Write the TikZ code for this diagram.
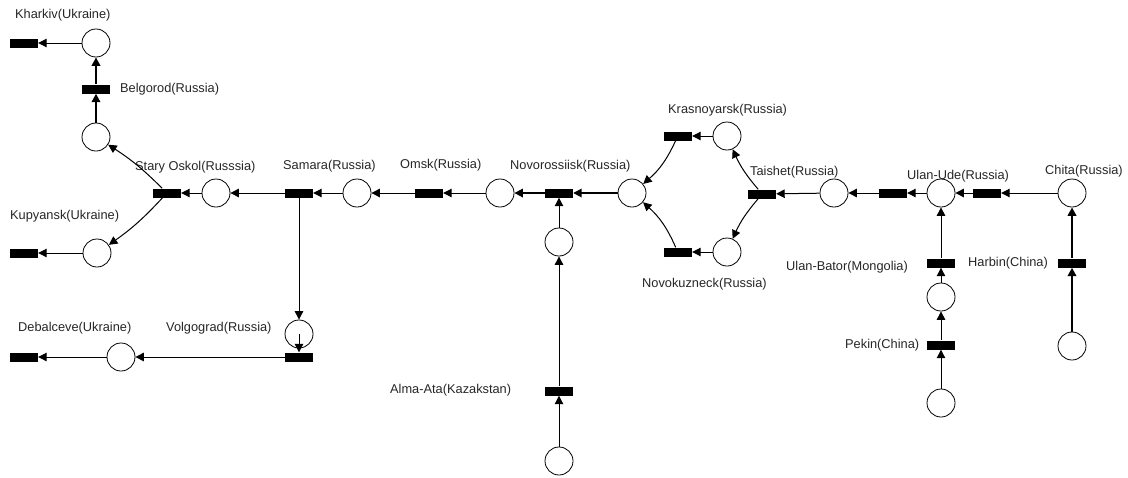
\documentclass[tikz,border=0pt]{standalone}
\usepackage{fontspec}
\setmainfont{Liberation Sans}
\usetikzlibrary{positioning,arrows.meta}

\begin{document}
\begin{tikzpicture}[
      x=1pt, y=-1pt,
      font=\fontsize{12.8}{14}\selectfont,
      >={Triangle[length=8.5pt,width=8.5pt]},
      place/.style={draw, circle, minimum size=28pt, inner sep=0pt, line width=0.8pt},
      trans/.style={fill=black, minimum width=28pt, minimum height=9pt, inner sep=0pt},
      lbl/.style={anchor=west, inner sep=0pt, text=black!85},
      link/.style={->, line width=1pt},
      midlink/.style={->, line width=1.7pt},
      boldlink/.style={->, line width=2.8pt}
    ]
    \useasboundingbox (0,0) rectangle (1128,477);

    \node[place] (kharkivP)  at (96,43)   {};
    \node[trans] (kharkivT)  at (24,43)   {};
    \node[trans] (belgorodT) at (96,89)   {};
    \node[place] (belgorodP) at (96,137)  {};
    \node[trans] (oskolT)    at (167,193) {};
    \node[place] (oskolP)    at (216,193) {};
    \node[place] (kupyanskP) at (97,253)  {};
    \node[trans] (kupyanskT) at (24,253)  {};
    \node[trans] (samaraT)   at (299,193) {};
    \node[place] (samaraP)   at (357,193) {};
    \node[trans] (omskT)     at (429,193) {};
    \node[place] (omskP)     at (500,193) {};
    \node[trans] (novorT)    at (559,193) {};
    \node[place] (novorP)    at (632,193) {};
    \node[place] (almaP)     at (559,242) {};
    \node[trans] (almaT)     at (559,391) {};
    \node[place] (almaSrc)   at (559,461) {};
    \node[trans] (krasT)     at (678,136) {};
    \node[place] (krasP)     at (727,136) {};
    \node[trans] (novokT)    at (678,252) {};
    \node[place] (novokP)    at (727,252) {};
    \node[trans] (taishetT)  at (762,194) {};
    \node[place] (taishetP)  at (834,193) {};
    \node[trans] (udeT)      at (893,193) {};
    \node[place] (udeP)      at (941,193) {};
    \node[trans] (chitaT)    at (987,193) {};
    \node[place] (chitaP)    at (1072,193) {};
    \node[trans] (batorT)    at (941,263) {};
    \node[place] (batorP)    at (941,297) {};
    \node[trans] (pekinT)    at (941,345) {};
    \node[place] (pekinP)    at (941,403) {};
    \node[trans] (harbinT)   at (1072,263) {};
    \node[place] (harbinP)   at (1072,346) {};
    \node[place] (volgP)     at (299,334) {};
    \node[trans] (volgT)     at (299,357) {};
    \node[place] (debalP)    at (121,357) {};
    \node[trans] (debalT)    at (24,357)  {};

    \node[lbl] (kharkivL)  at (15,15)   {Kharkiv(Ukraine)};
    \node[lbl] (belgorodL) at (120,89)  {Belgorod(Russia)};
    \node[lbl] (oskolL)    at (135,167) {Stary Oskol(Russsia)};
    \node[lbl] (samaraL)   at (283,166) {Samara(Russia)};
    \node[lbl] (omskL)     at (400,165) {Omsk(Russia)};
    \node[lbl] (novorL)    at (510,166) {Novorossiisk(Russia)};
    \node[lbl] (krasL)     at (668,110) {Krasnoyarsk(Russia)};
    \node[lbl] (taishetL)  at (750,172) {Taishet(Russia)};
    \node[lbl] (novokL)    at (642,284) {Novokuzneck(Russia)};
    \node[lbl] (udeL)      at (907,176) {Ulan-Ude(Russia)};
    \node[lbl] (chitaL)    at (1045,171) {Chita(Russia)};
    \node[lbl] (batorL)    at (786,267) {Ulan-Bator(Mongolia)};
    \node[lbl] (harbinL)   at (968,263) {Harbin(China)};
    \node[lbl] (pekinL)    at (845,345) {Pekin(China)};
    \node[lbl] (almaL)     at (390,390) {Alma-Ata(Kazakstan)};
    \node[lbl] (kupyanskL) at (10,216)  {Kupyansk(Ukraine)};
    \node[lbl] (debalL)    at (18,328)  {Debalceve(Ukraine)};
    \node[lbl] (volgL)     at (166,328) {Volgograd(Russia)};

    \draw[link] (kharkivP) -- (kharkivT);
    \draw[boldlink] (belgorodT) -- (kharkivP);
    \draw[boldlink] (belgorodP) -- (belgorodT);
    \draw[link] (oskolT) to[bend right=6] (belgorodP);
    \draw[link] (oskolT) to[bend left=6] (kupyanskP);
    \draw[link] (kupyanskP) -- (kupyanskT);
    \draw[link] (oskolP) -- (oskolT);
    \draw[link] (samaraT) -- (oskolP);
    \draw[link] (samaraT) -- (volgP);
    \draw[link] (samaraP) -- (samaraT);
    \draw[link] (omskT) -- (samaraP);
    \draw[link] (omskP) -- (omskT);
    \draw[midlink] (novorT) -- (omskP);
    \draw[midlink] (novorP) -- (novorT);
    \draw[link] (almaP) -- (novorT);
    \draw[link] (almaT) -- (almaP);
    \draw[link] (almaSrc) -- (almaT);
    \draw[link] (krasT) to[bend left=12] (novorP);
    \draw[link] (novokT) to[bend right=12] (novorP);
    \draw[link] (krasP) -- (krasT);
    \draw[link] (novokP) -- (novokT);
    \draw[link] (taishetT) to[bend left=8] (krasP);
    \draw[link] (taishetT) to[bend right=8] (novokP);
    \draw[link] (taishetP) -- (taishetT);
    \draw[link] (udeT) -- (taishetP);
    \draw[link] (udeP) -- (udeT);
    \draw[link] (chitaT) -- (udeP);
    \draw[link] (chitaP) -- (chitaT);
    \draw[link] (batorT) -- (udeP);
    \draw[link] (batorP) -- (batorT);
    \draw[link] (pekinT) -- (batorP);
    \draw[link] (pekinP) -- (pekinT);
    \draw[boldlink] (harbinT) -- (chitaP);
    \draw[boldlink] (harbinP) -- (harbinT);
    \draw[link] (volgP.center) -- (volgT.north);
    \draw[link] (volgT) -- (debalP);
    \draw[link] (debalP) -- (debalT);
  \end{tikzpicture}
\end{document}
